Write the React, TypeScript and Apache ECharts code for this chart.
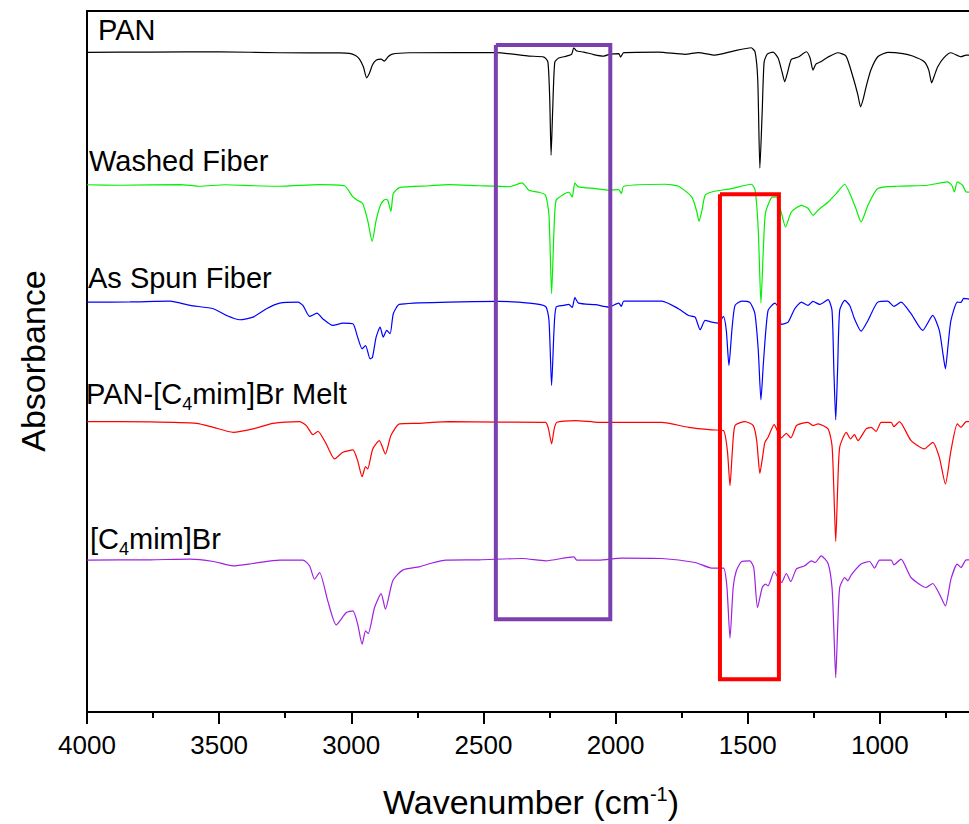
import React, { useEffect, useRef } from 'react';
import * as echarts from 'echarts';

// Wavenumber axis tick labels (cm-1)
const xTickValues = [4000, 3500, 3000, 2500, 2000, 1500, 1000];

// Spectrum names (top to bottom)
const spectrumNames = ['PAN', 'Washed Fiber', 'As Spun Fiber', 'PAN-[C4mim]Br Melt', '[C4mim]Br'];

// Spectra: [wavenumber, absorbance (offset, a.u.)]
const panData: [number, number][] = [
  [4000, 658.7], [3761, 659], [3497, 659.2], [3271, 658.3], [3045, 658.2], [3007, 657.7], [2984, 655.5], [2969, 652],
  [2954, 644], [2942, 633.3], [2931, 638], [2920, 646], [2905, 651], [2887, 652], [2875, 650], [2860, 654.5], [2845, 657],
  [2780, 658.3], [2592, 658.5], [2452, 658.5], [2328, 655], [2271, 654], [2256, 649], [2249, 611], [2244, 556], [2238, 601],
  [2230, 649], [2215, 653], [2185, 655], [2166, 657], [2158, 663.3], [2147, 660], [2120, 659], [2083, 656.5], [2045, 655],
  [2019, 657], [1988, 657.5], [1981, 654], [1969, 658.5], [1838, 659], [1737, 656.7], [1687, 658.5], [1624, 656], [1555, 660],
  [1487, 663.3], [1472, 659], [1462, 631], [1454, 543], [1445, 601], [1438, 649], [1426, 657], [1404, 659], [1385, 653],
  [1370, 639], [1360, 629.3], [1349, 639], [1335, 651.7], [1309, 654], [1278, 659.3], [1264, 653], [1253, 641], [1242, 647],
  [1226, 649], [1196, 654], [1159, 658.3], [1128, 655], [1102, 634.3], [1083, 616], [1073, 604.3], [1062, 613], [1052, 624.3],
  [1034, 641], [1008, 654.3], [970, 658.7], [913, 657.5], [876, 655], [832, 649.3], [815, 641], [804, 628.3], [793, 636],
  [781, 644.3], [759, 653], [731, 658.3], [693, 654.3], [673, 656], [650, 656],
];

const washedData: [number, number][] = [
  [4000, 526.5], [3874, 526], [3648, 526.7], [3573, 525], [3478, 526.5], [3365, 525.5], [3271, 525], [3120, 526.7],
  [3026, 525.5], [2994, 514.3], [2977, 511], [2957, 507.7], [2938, 491], [2921, 470], [2906, 491], [2887, 507.7], [2871, 512],
  [2862, 511], [2850, 500], [2841, 517.7], [2818, 523.7], [2705, 525.5], [2630, 526.7], [2516, 525.5], [2403, 524.5],
  [2354, 528.3], [2328, 521], [2290, 519], [2265, 516], [2252, 496], [2242, 417.7], [2233, 481], [2225, 511], [2196, 517],
  [2177, 519], [2164, 514.3], [2154, 528.3], [2140, 524.3], [2076, 522.7], [2026, 521], [1988, 521.7], [1978, 517.7],
  [1969, 525], [1812, 527], [1762, 525], [1712, 514.3], [1694, 501], [1684, 490], [1673, 501], [1661, 516], [1636, 519.3],
  [1561, 522.7], [1486, 527], [1472, 521], [1460, 481], [1450, 408.3], [1441, 461], [1433, 498], [1410, 513.7], [1392, 514.3],
  [1372, 497.7], [1357, 484.3], [1335, 499.3], [1297, 506], [1272, 503], [1253, 496], [1234, 501], [1196, 509.3],
  [1165, 517.7], [1133, 527], [1108, 514.3], [1091, 503], [1071, 489.3], [1045, 506], [1008, 522.7], [933, 525], [819, 526],
  [744, 529.3], [728, 526], [718, 519.3], [707, 529.3], [687, 526], [673, 519.3], [650, 519],
];

const spunData: [number, number][] = [
  [4000, 409.3], [3837, 409.5], [3686, 410.3], [3610, 406], [3522, 402.7], [3472, 396], [3422, 391.7], [3372, 394.3],
  [3321, 402.7], [3271, 408.3], [3202, 409.3], [3183, 406], [3158, 395], [3130, 398.3], [3108, 392.7], [3070, 386],
  [3032, 388.3], [2994, 387.7], [2976, 374.3], [2959, 362.7], [2946, 366], [2929, 352.7], [2920, 354], [2906, 374.3],
  [2891, 384.3], [2879, 374.3], [2866, 381], [2853, 377.7], [2841, 397.7], [2818, 407], [2630, 409.3], [2441, 410],
  [2328, 408.3], [2265, 405], [2252, 391], [2242, 326], [2233, 381], [2225, 404.3], [2196, 406], [2177, 407], [2164, 404],
  [2154, 413.7], [2140, 408.3], [2076, 406.7], [2026, 404.3], [1988, 408.3], [1978, 405], [1969, 410.3], [1825, 410.3],
  [1762, 402.7], [1724, 396], [1699, 394.3], [1680, 381.7], [1661, 391], [1636, 389.3], [1611, 388.3], [1592, 395],
  [1581, 381], [1571, 346], [1560, 381], [1548, 406], [1523, 410.3], [1492, 409], [1473, 398], [1460, 361], [1450, 311.7],
  [1440, 351], [1423, 401], [1397, 408.3], [1385, 404.3], [1372, 387], [1347, 389.3], [1322, 402.7], [1297, 409.3],
  [1272, 406], [1253, 410], [1228, 407], [1196, 411.7], [1181, 401], [1174, 341], [1167, 291.7], [1160, 341], [1152, 401],
  [1133, 411], [1114, 406], [1096, 392.7], [1071, 380.3], [1045, 391], [1008, 409.3], [970, 410.3], [947, 405], [920, 409.3],
  [882, 397.7], [838, 381], [800, 396], [775, 381], [762, 359], [752, 342.7], [742, 366], [731, 391], [707, 409.3],
  [693, 409], [683, 413], [673, 412.7], [650, 412],
];

const meltData: [number, number][] = [
  [4000, 290], [3761, 289.7], [3585, 288.3], [3522, 284.3], [3447, 279.3], [3372, 282.7], [3296, 288.3], [3195, 290],
  [3170, 286], [3145, 277], [3126, 280.3], [3095, 267.7], [3063, 252.7], [3032, 259.3], [2994, 261.7], [2976, 251],
  [2959, 235], [2946, 245], [2938, 242.7], [2919, 262.7], [2894, 271], [2871, 257.7], [2850, 276], [2818, 287.7],
  [2743, 288.3], [2630, 290], [2441, 289.5], [2265, 289.3], [2254, 283], [2242, 267.7], [2232, 283], [2222, 289.3],
  [2152, 291], [2064, 289.3], [1825, 289.3], [1724, 284.3], [1636, 281.7], [1592, 281], [1577, 261], [1567, 226],
  [1558, 261], [1548, 286], [1510, 290], [1479, 286], [1466, 271], [1454, 238.3], [1443, 256], [1435, 269.3], [1423, 274.3],
  [1400, 287], [1385, 279.3], [1372, 273.7], [1354, 278.3], [1337, 273.7], [1316, 286], [1298, 288], [1272, 289.3],
  [1253, 286], [1234, 287.7], [1196, 282.7], [1181, 266], [1174, 221], [1167, 170.3], [1160, 221], [1152, 264.3],
  [1127, 279.3], [1111, 272.7], [1096, 277], [1083, 271], [1052, 282.7], [1033, 284.3], [1014, 280.3], [995, 289.3],
  [957, 289.3], [947, 285], [926, 290], [882, 271], [832, 262.7], [800, 269.3], [775, 254.3], [752, 227.7], [731, 261],
  [707, 287.7], [693, 284.3], [673, 290], [650, 290],
];

const ilData: [number, number][] = [
  [4000, 151.7], [3761, 152], [3610, 152.7], [3522, 150.3], [3447, 146], [3372, 148.3], [3271, 151.7], [3183, 151.7],
  [3158, 146], [3139, 132.7], [3120, 139.3], [3089, 111], [3057, 87], [3019, 99.3], [2994, 101], [2976, 88], [2959, 67.7],
  [2946, 81], [2936, 78.3], [2912, 104.3], [2887, 118.3], [2871, 102.7], [2843, 131], [2806, 141.7], [2743, 145],
  [2705, 148], [2642, 151.7], [2516, 152], [2353, 153.3], [2265, 151], [2158, 155], [2147, 151.7], [2064, 151.7],
  [1976, 153.7], [1825, 153.3], [1699, 149.3], [1636, 143.7], [1592, 143.7], [1579, 126], [1567, 73.7], [1555, 124.3],
  [1543, 141], [1523, 150.3], [1492, 151], [1477, 144], [1463, 104.3], [1445, 124.3], [1433, 127.7], [1423, 126],
  [1400, 140.3], [1385, 134.3], [1372, 129.3], [1354, 138.3], [1337, 130.3], [1316, 142.7], [1284, 146], [1259, 151],
  [1245, 149.3], [1222, 156], [1196, 148.3], [1181, 124.3], [1174, 81], [1167, 34.3], [1160, 81], [1152, 124.3],
  [1133, 134.3], [1121, 131], [1108, 137], [1071, 147.7], [1039, 150.3], [1020, 143.7], [1001, 151.7], [957, 151.7],
  [947, 147], [920, 152.7], [882, 134.3], [825, 124.3], [800, 128.3], [775, 118], [752, 106], [731, 132.7], [707, 147.7],
  [693, 144.3], [673, 152], [650, 152],
];

// Highlight boxes: wavenumber span and absorbance span
const purpleBoxX = [2453, 2020];
const purpleBoxY = [92.7, 666];
const redBoxX = [1605, 1382];
const redBoxY = [32.7, 517];

const spectra = [panData, washedData, spunData, meltData, ilData];
const spectrumColors = ['#000000', '#00F000', '#0000FF', '#FF0000', '#A020E0'];

// label layout (pixels)
const labelLayout = [
  { x: 98, y: 48.5, text: '{n|PAN}' },
  { x: 89, y: 179.5, text: '{n|Washed Fiber}' },
  { x: 88, y: 296.5, text: '{n|As Spun Fiber}' },
  { x: 86, y: 412.5, text: '{n|PAN-[C}{s|4}{n|mim]Br Melt}' },
  { x: 90, y: 557.5, text: '{n|[C}{s|4}{n|mim]Br}' },
];

const FONT = '"Liberation Sans", Arial, Helvetica, sans-serif';

function boxPath(xs: number[], ys: number[]): [number, number][] {
  return [
    [xs[0], ys[1]], [xs[1], ys[1]], [xs[1], ys[0]], [xs[0], ys[0]], [xs[0], ys[1]],
  ];
}

export default function App() {
  const ref = useRef<HTMLDivElement>(null);
  useEffect(() => {
    if (!ref.current) return;
    const chart = echarts.init(ref.current, undefined, { renderer: 'svg' });
    const labelRich = {
      n: { fontSize: 29, lineHeight: 38, fontFamily: FONT, fill: '#000', color: '#000' },
      s: { fontSize: 18, lineHeight: 18, fontFamily: FONT, verticalAlign: 'bottom', fill: '#000', color: '#000' },
    };
    const series: any[] = spectra.map((d, i) => ({
      name: spectrumNames[i],
      type: 'line',
      data: d,
      showSymbol: false,
      smooth: 0.2,
      lineStyle: { color: spectrumColors[i], width: 1.2 },
      itemStyle: { color: spectrumColors[i] },
      z: 2,
    }));
    series.push({
      name: 'box1', type: 'line', data: boxPath(purpleBoxX, purpleBoxY), showSymbol: false,
      lineStyle: { color: '#7B3FB0', width: 4, join: 'miter' }, z: 5,
    });
    series.push({
      name: 'box2', type: 'line', data: boxPath(redBoxX, redBoxY), showSymbol: false,
      lineStyle: { color: '#FF0000', width: 4, join: 'miter' }, z: 5,
    });
    chart.setOption({
      animation: false,
      backgroundColor: '#ffffff',
      grid: { left: 87, right: 0, top: 11, bottom: 112, show: true, borderColor: '#000', borderWidth: 2, backgroundColor: 'transparent' },
      xAxis: {
        type: 'value', inverse: true, min: 500, max: 4000, interval: 500,
        axisLine: { show: true, lineStyle: { color: '#000', width: 2 } },
        axisTick: { show: true, inside: false, length: 12, lineStyle: { color: '#000', width: 2 } },
        minorTick: { show: true, splitNumber: 2, length: 6, lineStyle: { color: '#000', width: 2 } },
        splitLine: { show: false },
        axisLabel: {
          fontSize: 26, color: '#000', fontFamily: FONT, margin: 20,
          formatter: (v: number) => (xTickValues.indexOf(v) >= 0 ? String(v) : ''),
        },
      },
      yAxis: {
        type: 'value', min: 0, max: 700,
        axisLine: { show: true, lineStyle: { color: '#000', width: 2 } },
        axisTick: { show: false }, axisLabel: { show: false }, splitLine: { show: false },
      },
      graphic: [
        ...labelLayout.map((l) => ({
          type: 'text', x: l.x, y: l.y, z: 10,
          style: { text: l.text, rich: labelRich, align: 'left', verticalAlign: 'bottom', fill: '#000' },
        })),
        {
          type: 'text', x: 531, y: 802, z: 10,
          style: {
            text: '{n|Wavenumber (cm}{s|-1}{n|)}',
            align: 'center', verticalAlign: 'middle', fill: '#000',
            rich: {
              n: { fontSize: 34, lineHeight: 36, fontFamily: FONT, fill: '#000' },
              s: { fontSize: 20, lineHeight: 20, fontFamily: FONT, verticalAlign: 'top', fill: '#000' },
            },
          },
        },
        {
          type: 'text', x: 33, y: 361, rotation: Math.PI / 2, z: 10,
          style: { text: 'Absorbance', fontSize: 34, fontFamily: FONT, fill: '#000', align: 'center', verticalAlign: 'middle' },
        },
      ],
      series,
    });
    return () => chart.dispose();
  }, []);
  return (
    <div style={{ position: 'fixed', left: 0, top: 0, width: 969, height: 824, overflow: 'hidden', background: '#fff' }}>
      <div ref={ref} style={{ position: 'absolute', left: 0, top: 0, width: 1015, height: 824 }} />
    </div>
  );
}
